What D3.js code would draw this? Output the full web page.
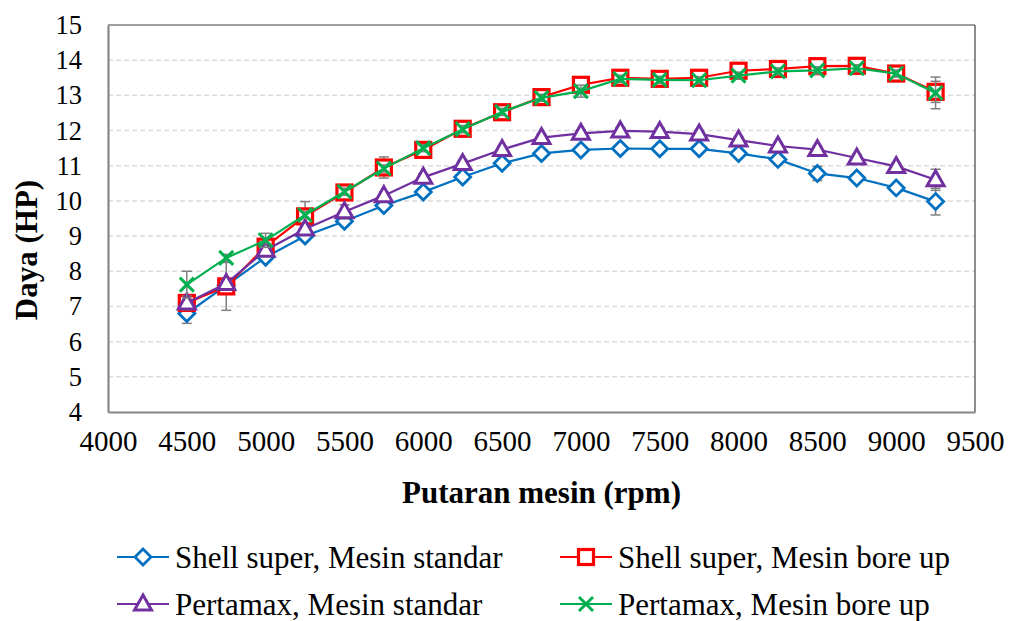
<!DOCTYPE html>
<html>
<head>
<meta charset="utf-8">
<script src="https://cdn.jsdelivr.net/npm/d3@7"></script>
<style>
  body { margin: 0; background: #fff; }
  text { font-family: "Liberation Serif", "Times New Roman", serif; fill: #000; }
</style>
</head>
<body>
<main></main>
<script>
// rpm values
var rpm = [4500, 4750, 5000, 5250, 5500, 5750, 6000, 6250, 6500, 6750,
           7000, 7250, 7500, 7750, 8000, 8250, 8500, 8750, 9000, 9250];

var shellStandar = [6.8, 7.6, 8.4, 9.0, 9.42, 9.87, 10.25, 10.68, 11.07, 11.35,
                    11.45, 11.49, 11.48, 11.48, 11.35, 11.18, 10.78, 10.65, 10.37, 9.98];
var shellBoreUp = [7.1, 7.57, 8.7, 9.56, 10.24, 10.95, 11.45, 12.05, 12.52, 12.95,
                   13.3, 13.5, 13.47, 13.5, 13.7, 13.75, 13.83, 13.84, 13.62, 13.1];
var pertamaxStandar = [7.1, 7.65, 8.6, 9.2, 9.69, 10.15, 10.67, 11.06, 11.46, 11.8,
                       11.92, 11.99, 11.97, 11.9, 11.73, 11.56, 11.46, 11.22, 10.98, 10.6];
var pertamaxBoreUp = [7.62, 8.38, 8.88, 9.6, 10.26, 10.92, 11.5, 12.04, 12.53, 12.93,
                      13.12, 13.47, 13.44, 13.43, 13.56, 13.68, 13.71, 13.77, 13.62, 13.07];

// error bar half widths
var errShellStandar = [0.28, 0.1, 0.1, 0.1, 0.1, 0.1, 0.1, 0.1, 0.1, 0.1,
                       0.1, 0.1, 0.1, 0.1, 0.1, 0.1, 0.2, 0.1, 0.1, 0.38];
var errShellBoreUp = [0.1, 0.68, 0.1, 0.42, 0.1, 0.3, 0.1, 0.1, 0.1, 0.1,
                      0.1, 0.1, 0.1, 0.1, 0.1, 0.1, 0.1, 0.1, 0.1, 0.3];
var errPertamaxStandar = [0.2, 0.1, 0.1, 0.1, 0.2, 0.1, 0.1, 0.1, 0.1, 0.1,
                          0.1, 0.1, 0.1, 0.1, 0.1, 0.1, 0.1, 0.1, 0.1, 0.3];
var errPertamaxBoreUp = [0.38, 0.1, 0.2, 0.1, 0.1, 0.1, 0.1, 0.1, 0.1, 0.1,
                         0.17, 0.1, 0.1, 0.1, 0.1, 0.1, 0.1, 0.1, 0.1, 0.45];

var seriesNames = ['Shell super, Mesin standar', 'Shell super, Mesin bore up',
                   'Pertamax, Mesin standar', 'Pertamax, Mesin bore up'];
var xTicks = [4000, 4500, 5000, 5500, 6000, 6500, 7000, 7500, 8000, 8500, 9000, 9500];
var yTicks = [4, 5, 6, 7, 8, 9, 10, 11, 12, 13, 14, 15];

var series = [
  { name: seriesNames[0], values: shellStandar, err: errShellStandar, color: '#0070C0', marker: 'diamond' },
  { name: seriesNames[1], values: shellBoreUp, err: errShellBoreUp, color: '#FF0000', marker: 'square' },
  { name: seriesNames[2], values: pertamaxStandar, err: errPertamaxStandar, color: '#7030A0', marker: 'triangle' },
  { name: seriesNames[3], values: pertamaxBoreUp, err: errPertamaxBoreUp, color: '#00B050', marker: 'cross' }
];

var width = 1018, height = 621;
var pLeft = 108, pRight = 975, pTop = 25, pBottom = 412;

var svg = d3.select('main').append('svg')
    .attr('width', width)
    .attr('height', height);

var x = d3.scaleLinear().domain([4000, 9500]).range([pLeft, pRight]);
var y = d3.scaleLinear().domain([4, 15]).range([pBottom, pTop]);

// gridlines
svg.append('g')
    .selectAll('line')
    .data(yTicks.filter(d => d > 4 && d < 15))
    .enter().append('line')
    .attr('x1', pLeft).attr('x2', pRight)
    .attr('y1', d => y(d)).attr('y2', d => y(d))
    .attr('stroke', '#dcdcdc')
    .attr('stroke-width', 1.5)
    .attr('stroke-dasharray', '5,3');

// frame
svg.append('line').attr('x1', pLeft).attr('x2', pRight).attr('y1', pTop).attr('y2', pTop)
    .attr('stroke', '#404040').attr('stroke-width', 1.2);
svg.append('line').attr('x1', pRight).attr('x2', pRight).attr('y1', pTop).attr('y2', pBottom)
    .attr('stroke', '#404040').attr('stroke-width', 1.2);

// axes
var xAxis = svg.append('g')
    .attr('transform', 'translate(0,' + pBottom + ')')
    .call(d3.axisBottom(x).tickValues(xTicks).tickSize(0).tickPadding(18).tickFormat(d3.format('d')));
xAxis.select('.domain').attr('stroke', '#868686').attr('stroke-width', 2.2);
xAxis.selectAll('text').style('font-size', '29px').attr('dy', '0.71em');

var yAxis = svg.append('g')
    .attr('transform', 'translate(' + pLeft + ',0)')
    .call(d3.axisLeft(y).tickValues(yTicks).tickSize(0).tickPadding(26));
yAxis.select('.domain').attr('stroke', '#868686').attr('stroke-width', 2.2);
yAxis.selectAll('text').style('font-size', '26.5px');

// axis titles
svg.append('text')
    .attr('x', (pLeft + pRight) / 2)
    .attr('y', 503)
    .attr('text-anchor', 'middle')
    .style('font-size', '31px')
    .style('font-weight', 'bold')
    .text('Putaran mesin (rpm)');

svg.append('text')
    .attr('transform', 'translate(37,250) rotate(-90)')
    .attr('text-anchor', 'middle')
    .style('font-size', '31px')
    .style('font-weight', 'bold')
    .text('Daya (HP)');

function drawMarker(g, type, color) {
  if (type === 'diamond') {
    g.append('path').attr('d', 'M0,-8L8,0L0,8L-8,0Z')
      .attr('fill', '#fff').attr('stroke', color).attr('stroke-width', 2.8);
  } else if (type === 'square') {
    g.append('rect').attr('x', -7.5).attr('y', -7.5).attr('width', 15).attr('height', 15)
      .attr('fill', '#fff').attr('stroke', color).attr('stroke-width', 3.2);
  } else if (type === 'triangle') {
    g.append('path').attr('d', 'M0,-9L8.5,6L-8.5,6Z')
      .attr('fill', '#fff').attr('stroke', color).attr('stroke-width', 3).attr('stroke-linejoin', 'miter');
  } else {
    g.append('path').attr('d', 'M-7,-7L7,7M-7,7L7,-7')
      .attr('fill', 'none').attr('stroke', color).attr('stroke-width', 3);
  }
}

var line = d3.line().x(d => x(d.x)).y(d => y(d.y));

series.forEach(function (s) {
  var pts = rpm.map((r, i) => ({ x: r, y: s.values[i], e: s.err[i] }));
  var g = svg.append('g');

  // error bars
  var eb = g.append('g').selectAll('g').data(pts).enter().append('g');
  eb.append('line')
    .attr('x1', d => x(d.x)).attr('x2', d => x(d.x))
    .attr('y1', d => y(d.y - d.e)).attr('y2', d => y(d.y + d.e))
    .attr('stroke', '#7f7f7f').attr('stroke-width', 1.5);
  eb.append('line')
    .attr('x1', d => x(d.x) - 5).attr('x2', d => x(d.x) + 5)
    .attr('y1', d => y(d.y - d.e)).attr('y2', d => y(d.y - d.e))
    .attr('stroke', '#7f7f7f').attr('stroke-width', 1.5);
  eb.append('line')
    .attr('x1', d => x(d.x) - 5).attr('x2', d => x(d.x) + 5)
    .attr('y1', d => y(d.y + d.e)).attr('y2', d => y(d.y + d.e))
    .attr('stroke', '#7f7f7f').attr('stroke-width', 1.5);

  g.append('path')
    .datum(pts)
    .attr('d', line)
    .attr('fill', 'none')
    .attr('stroke', s.color)
    .attr('stroke-width', 2.2);

  g.selectAll('.m').data(pts).enter().append('g')
    .attr('class', 'm')
    .attr('transform', d => 'translate(' + x(d.x) + ',' + y(d.y) + ')')
    .each(function () { drawMarker(d3.select(this), s.marker, s.color); });
});

// legend
var legendPos = [[117, 557], [560, 557], [117, 604], [560, 604]];
series.forEach(function (s, i) {
  var lg = svg.append('g').attr('transform', 'translate(' + legendPos[i][0] + ',' + legendPos[i][1] + ')');
  lg.append('line').attr('x1', 0).attr('x2', 52).attr('y1', 0).attr('y2', 0)
    .attr('stroke', s.color).attr('stroke-width', 2.2);
  var mg = lg.append('g').attr('transform', 'translate(26,0)');
  drawMarker(mg, s.marker, s.color);
  lg.append('text')
    .attr('x', 58)
    .attr('y', 0)
    .attr('dy', '0.35em')
    .style('font-size', '31px')
    .text(s.name);
});
</script>
</body>
</html>
